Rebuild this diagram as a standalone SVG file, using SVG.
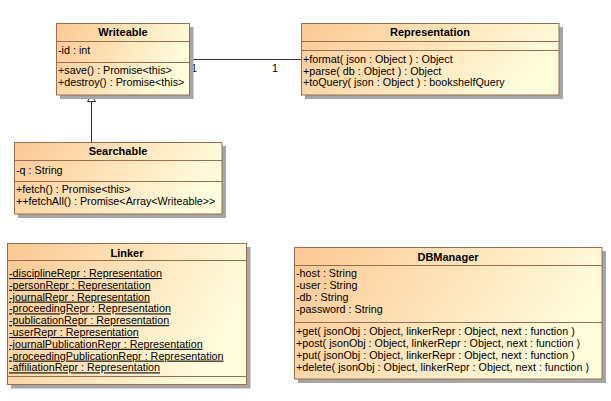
<svg xmlns="http://www.w3.org/2000/svg" width="611" height="401" viewBox="0 0 611 401">
<defs>
<linearGradient id="g" x1="0" y1="0" x2="1" y2="0.3">
<stop offset="0" stop-color="#FCC893"/>
<stop offset="1" stop-color="#FFFCDC"/>
</linearGradient>
<style>
text{font-family:"Liberation Sans",Arial,sans-serif;font-size:10.75px;fill:#000}
.t{font-weight:bold;text-anchor:middle;font-size:11px}
.u{text-decoration:underline}
.box{fill:url(#g);stroke:#94704F;stroke-width:1}
.sh{fill:#A6A6A6}
.sep{stroke:#94704F;stroke-width:1}
.ln{stroke:#333;stroke-width:1;fill:none}
</style>
</defs>
<rect width="611" height="401" fill="#fff"/>
<g id="connectors">
<line class="ln" x1="189" y1="59.5" x2="301" y2="59.5"/>
<text x="191" y="72">1</text>
<text x="272" y="72">1</text>
<line class="ln" x1="91.5" y1="142" x2="91.5" y2="101.5"/>
<polygon points="91.5,95 87.5,101.5 95.5,101.5" fill="#fff" stroke="#333" stroke-width="1"/>
</g>
<g id="Writeable">
<rect class="sh" x="60" y="27" width="133.5" height="72"/>
<rect class="box" x="56.5" y="23.5" width="133" height="71.5"/>
<line class="sep" x1="56.5" y1="41.5" x2="189.5" y2="41.5"/>
<line class="sep" x1="56.5" y1="62.5" x2="189.5" y2="62.5"/>
<text class="t" x="123" y="36">Writeable</text>
<text x="58" y="53.5">-id : int</text>
<text x="58" y="74">+save() : Promise&lt;this&gt;</text>
<text x="58" y="85.5">+destroy() : Promise&lt;this&gt;</text>
</g>
<g id="Representation">
<rect class="sh" x="305" y="27" width="258" height="72"/>
<rect class="box" x="301.5" y="23.5" width="257.5" height="71.5"/>
<line class="sep" x1="301.5" y1="41.5" x2="559" y2="41.5"/>
<line class="sep" x1="301.5" y1="50.5" x2="559" y2="50.5"/>
<text class="t" x="430" y="36">Representation</text>
<text x="303" y="63">+format( json : Object ) : Object</text>
<text x="303" y="74.5">+parse( db : Object ) : Object</text>
<text x="303" y="86">+toQuery( json : Object ) : bookshelfQuery</text>
</g>
<g id="Searchable">
<rect class="sh" x="18" y="146" width="208" height="72"/>
<rect class="box" x="14.5" y="142.5" width="207.5" height="71.5"/>
<line class="sep" x1="14.5" y1="160.5" x2="222" y2="160.5"/>
<line class="sep" x1="14.5" y1="181.5" x2="222" y2="181.5"/>
<text class="t" x="118" y="155">Searchable</text>
<text x="16" y="174">-q : String</text>
<text x="16" y="193">+fetch() : Promise&lt;this&gt;</text>
<text x="16" y="204.5">++fetchAll() : Promise&lt;Array&lt;Writeable&gt;&gt;</text>
</g>
<g id="Linker">
<rect class="sh" x="11" y="247" width="239.5" height="141.5"/>
<rect class="box" x="7.5" y="243.5" width="239" height="141"/>
<line class="sep" x1="7.5" y1="260.5" x2="246.5" y2="260.5"/>
<line class="sep" x1="7.5" y1="376.5" x2="246.5" y2="376.5"/>
<text class="t" x="127" y="257">Linker</text>
<text class="u" x="9" y="277">-disciplineRepr : Representation</text>
<text class="u" x="9" y="288.8">-personRepr : Representation</text>
<text class="u" x="9" y="300.6">-journalRepr : Representation</text>
<text class="u" x="9" y="312.4">-proceedingRepr : Representation</text>
<text class="u" x="9" y="324.2">-publicationRepr : Representation</text>
<text class="u" x="9" y="336">-userRepr : Representation</text>
<text class="u" x="9" y="347.8">-journalPublicationRepr : Representation</text>
<text class="u" x="9" y="359.6">-proceedingPublicationRepr : Representation</text>
<text class="u" x="9" y="371.4">-affiliationRepr : Representation</text>
</g>
<g id="DBManager">
<rect class="sh" x="298" y="251" width="308" height="132"/>
<rect class="box" x="294.5" y="247.5" width="307.5" height="131.5"/>
<line class="sep" x1="294.5" y1="265.5" x2="602" y2="265.5"/>
<line class="sep" x1="294.5" y1="322.5" x2="602" y2="322.5"/>
<text class="t" x="448" y="261">DBManager</text>
<text x="296" y="277">-host : String</text>
<text x="296" y="289">-user : String</text>
<text x="296" y="301">-db : String</text>
<text x="296" y="313">-password : String</text>
<text x="296" y="334.5">+get( jsonObj : Object, linkerRepr : Object, next : function )</text>
<text x="296" y="346.5">+post( jsonObj : Object, linkerRepr : Object, next : function )</text>
<text x="296" y="358.5">+put( jsonObj : Object, linkerRepr : Object, next : function )</text>
<text x="296" y="370.5">+delete( jsonObj : Object, linkerRepr : Object, next : function )</text>
</g>
</svg>
